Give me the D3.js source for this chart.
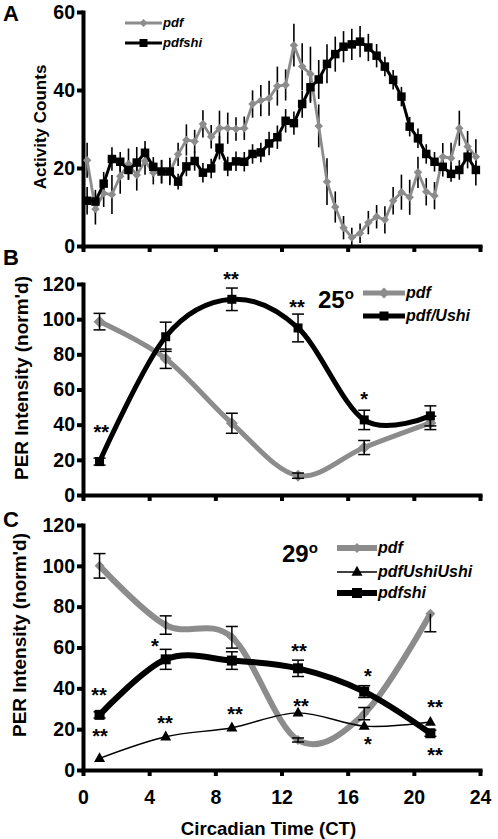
<!DOCTYPE html>
<html><head><meta charset="utf-8">
<script src="https://cdn.jsdelivr.net/npm/d3@7"></script>
<style>body{margin:0;background:#fff} svg{display:block}</style>
</head><body>
<script>
// ---------------- DATA ----------------
// Panel A: activity counts every half hour
const ctA = [0.25,0.75,1.25,1.75,2.25,2.75,3.25,3.75,4.25,4.75,5.25,5.75,6.25,6.75,7.25,7.75,8.25,8.75,9.25,9.75,10.25,10.75,11.25,11.75,12.25,12.75,13.25,13.75,14.25,14.75,15.25,15.75,16.25,16.75,17.25,17.75,18.25,18.75,19.25,19.75,20.25,20.75,21.25,21.75,22.25,22.75,23.25,23.75];
const pdfA = [22,9.5,13.5,13.2,17.9,21,18.2,21.8,18.8,19,19,23.5,27.2,26.8,31.3,28,30.2,30.2,30,30.2,36.4,37.3,37.9,41,41.3,51.5,46,44.1,30.8,16.5,10,4.7,2.2,3.3,6,7.5,6.7,11.6,13.8,12.5,18.9,13.9,12.9,22.9,22.5,30.2,25.5,22.9];
const pdfErrA = [4.5,4,3.5,5,4.5,4,4,3.5,3,3,3,3,4,3,3.5,3,4.5,4,3,3,3.5,4,4.5,5,4,5.5,6,7,5.5,6,4,3,2.5,2.5,3,3,3.5,3.5,4.5,4.5,4,3.5,3.5,3.5,4,4.5,4,4.5];
const pdfshiA = [11.6,11.4,16,22.3,21.6,19.5,21.4,23.9,20.3,19.1,19.1,16.5,20.4,21.8,18.8,19.9,25.2,20.4,21.7,21.6,23.6,24,26.3,27.9,32.1,31.5,36.4,40.7,42.7,46.7,49.2,51.1,51.7,52.4,50.9,48.8,46,42.6,38.3,30.6,27.6,23.6,21.6,20.3,18.5,19.5,22.9,19.5];
const pdfshiErrA = [3.5,3,3,3,2.5,2.5,4,3,2.5,3,3.5,2,2.5,2.5,2.5,2.5,3,2.5,2.5,2.5,2.5,2.5,3,3,3,3,3.5,4,5,5,4.5,4,4,4,3.5,3,2.5,2.5,2.5,2.5,2.5,2.5,2.5,2.5,2,2.5,3,4];
const yTicksA = [0,20,40,60];

// Panel B: 25 degrees
const ctB = [1,5,9,13,17,21];
const pdfB = [98.6,77.5,40.8,11,27,41];
const pdfErrB = [4.7,5.5,5.7,1.5,4,3.8];
const ushiB = [19,90,111.3,95,42.7,45];
const ushiErrB = [2,8.3,6.4,7.9,5.5,5.7];
const starsB = [
  {ct:1.1, v:38.1, t:"**"}, {ct:8.95, v:125.1, t:"**"},
  {ct:12.94, v:109.2, t:"**"}, {ct:17.0, v:56.9, t:"*"}
];

// Panel C: 29 degrees
const ctC = [1,5,9,13,17,21];
const pdfC = [100,71,65,14.7,27.6,76.5];
const pdfErrUpC = [6,4.5,5.3,1,3,0];
const pdfErrDownC = [6,4.5,5.3,1,3,8.8];
const ushiushiC = [5.7,16.3,20.7,28,21.5,23.5];
const shiC = [27,54.2,53.6,49.8,38.4,18];
const shiErrC = [1.5,4.9,4.3,4,2.9,1.5];
const starsC = [
  {ct:0.97, v:38.7, t:"**"}, {ct:1.03, v:18.6, t:"**"},
  {ct:4.35, v:62.7, t:"*"}, {ct:4.96, v:25, t:"**"},
  {ct:9.19, v:29.4, t:"**"}, {ct:13.06, v:60.2, t:"**"},
  {ct:13.18, v:33.3, t:"**"}, {ct:17.23, v:48, t:"*"},
  {ct:17.23, v:14.7, t:"*"}, {ct:21.28, v:32.8, t:"**"},
  {ct:21.28, v:9.3, t:"**"}
];
const yTicksBC = [0,20,40,60,80,100,120];
const xTicks = [0,4,8,12,16,20,24];

// ---------------- DRAW ----------------
const W = 498, H = 839;
const FONT = "'Liberation Sans', Arial, Helvetica, sans-serif";
const GREY = "#8c8c8c";
const svg = d3.select("body").append("svg").attr("width", W).attr("height", H)
  .style("font-family", FONT);

const x = d3.scaleLinear().domain([0,24]).range([83,480]);
const yA = d3.scaleLinear().domain([0,60]).range([246,12]);
const yB = d3.scaleLinear().domain([0,120]).range([495,284]);
const yC = d3.scaleLinear().domain([0,120]).range([770,525]);

function axes(y, yticks, showX){
  const gy = svg.append("g").attr("transform", `translate(${x(0)},0)`)
    .call(d3.axisLeft(y).tickValues(yticks).tickSize(6).tickSizeOuter(0).tickPadding(2));
  const gx = svg.append("g").attr("transform", `translate(0,${y(0)})`)
    .call(d3.axisBottom(x).tickValues(xTicks).tickSize(6).tickSizeOuter(0).tickPadding(14)
      .tickFormat(showX ? d3.format("d") : () => ""));
  [gy, gx].forEach(g => {
    g.select(".domain").attr("stroke", "#000").attr("stroke-width", 4).attr("stroke-linecap", "square");
    g.selectAll(".tick line").attr("stroke", "#000").attr("stroke-width", 4);
    g.selectAll(".tick text").attr("fill", "#000").attr("font-size", 19.5).attr("font-weight", "bold")
      .attr("font-family", FONT);
  });
}

function diamondPath(d){ // rotated square, d = diagonal
  const r = d/2;
  return `M0,${-r}L${r},0L0,${r}L${-r},0Z`;
}
const squarePath = s => `M${-s/2},${-s/2}h${s}v${s}h${-s}Z`;
const trianglePath = s => { const h = s*0.9; return `M0,${-h*0.62}L${s/2},${h*0.38}L${-s/2},${h*0.38}Z`; };

function errBars(cts, vals, errUp, errDown, y, cap, w){
  const g = svg.append("g").attr("stroke", "#000").attr("stroke-width", w || 1.5).attr("fill", "none");
  cts.forEach((c, i) => {
    const xx = x(c), y1 = y(vals[i] + errUp[i]), y2 = y(vals[i] - errDown[i]);
    g.append("line").attr("x1", xx).attr("x2", xx).attr("y1", y1).attr("y2", y2);
    if (cap) {
      if (errUp[i] > 0) g.append("line").attr("x1", xx - cap/2).attr("x2", xx + cap/2).attr("y1", y1).attr("y2", y1);
      if (errDown[i] > 0) g.append("line").attr("x1", xx - cap/2).attr("x2", xx + cap/2).attr("y1", y2).attr("y2", y2);
    }
  });
}
function seriesLine(cts, vals, y, color, width, curve){
  const line = d3.line().x((d) => x(d[0])).y(d => y(d[1])).curve(curve || d3.curveLinear);
  svg.append("path").datum(cts.map((c, i) => [c, vals[i]]))
    .attr("d", line).attr("fill", "none").attr("stroke", color).attr("stroke-width", width)
    .attr("stroke-linejoin", "round");
}
function markers(cts, vals, y, pathStr, color){
  svg.append("g").selectAll("path").data(cts).join("path")
    .attr("transform", (c, i) => `translate(${x(c)},${y(vals[i])})`)
    .attr("d", pathStr).attr("fill", color);
}
function legendItem(x1, x2, yy, color, width, pathStr, label, fs){
  svg.append("line").attr("x1", x1).attr("x2", x2).attr("y1", yy).attr("y2", yy)
    .attr("stroke", color).attr("stroke-width", width);
  svg.append("path").attr("transform", `translate(${(x1+x2)/2},${yy})`).attr("d", pathStr).attr("fill", color);
  svg.append("text").attr("x", x2 + 1).attr("y", yy + fs*0.3).text(label)
    .attr("font-size", fs).attr("font-weight", "bold").attr("font-style", "italic").attr("fill", "#000");
}
function stars(list, y){
  svg.append("g").selectAll("text").data(list).join("text")
    .attr("x", d => x(d.ct)).attr("y", d => y(d.v) + 11).attr("text-anchor", "middle")
    .attr("font-size", 20).attr("font-weight", "bold").attr("fill", "#000").text(d => d.t);
}
function panelLetter(t, xx, yy){
  svg.append("text").attr("x", xx).attr("y", yy).text(t).attr("font-size", 22).attr("font-weight", "bold");
}
function yLabel(t, xx, yy, fs){
  svg.append("text").attr("transform", `translate(${xx},${yy}) rotate(-90)`).attr("text-anchor", "middle")
    .attr("font-size", fs).attr("font-weight", "bold").attr("fill", "#000").text(t);
}
function tempLabel(num, xx, yy){
  const t = svg.append("text").attr("x", xx).attr("y", yy).attr("font-size", 24).attr("font-weight", "bold");
  t.append("tspan").text(num);
  t.append("tspan").attr("font-size", 15).attr("dy", -9.4).text("o");
}

// ---- Panel A ----
axes(yA, yTicksA, false);
panelLetter("A", 3, 21);
yLabel("Activity Counts", 46, 127, 17);
errBars(ctA, pdfA, pdfErrA, pdfErrA, yA, 0, 1.6);
errBars(ctA, pdfshiA, pdfshiErrA, pdfshiErrA, yA, 0, 1.6);
seriesLine(ctA, pdfA, yA, GREY, 2.8);
markers(ctA, pdfA, yA, diamondPath(8.5), GREY);
seriesLine(ctA, pdfshiA, yA, "#000", 3);
markers(ctA, pdfshiA, yA, squarePath(8.5), "#000");
legendItem(125, 162, 23, GREY, 3, diamondPath(8), "pdf", 13);
legendItem(125, 162, 43, "#000", 3, squarePath(8), "pdfshi", 13);

// ---- Panel B ----
axes(yB, yTicksBC, false);
panelLetter("B", 3, 265);
const smooth = d3.curveCardinal.tension(0);
seriesLine(ctB, pdfB, yB, GREY, 5, smooth);
markers(ctB, pdfB, yB, diamondPath(12), GREY);
seriesLine(ctB, ushiB, yB, "#000", 5, smooth);
markers(ctB, ushiB, yB, squarePath(9), "#000");
errBars(ctB, pdfB, pdfErrB, pdfErrB, yB, 12, 1.5);
errBars(ctB, ushiB, ushiErrB, ushiErrB, yB, 12, 1.5);
stars(starsB, yB);
tempLabel("25", 318, 308);
legendItem(363, 405, 293, GREY, 5, diamondPath(11), "pdf", 16);
legendItem(363, 405, 316, "#000", 5, squarePath(9), "pdf/Ushi", 16);
yLabel("PER Intensity (norm'd)", 28, 378, 19);

// ---- Panel C ----
axes(yC, yTicksBC, true);
panelLetter("C", 3, 527);
seriesLine(ctC, pdfC, yC, GREY, 6, smooth);
markers(ctC, pdfC, yC, diamondPath(10), GREY);
seriesLine(ctC, ushiushiC, yC, "#000", 1.4, smooth);
markers(ctC, ushiushiC, yC, trianglePath(11), "#000");
seriesLine(ctC, shiC, yC, "#000", 6, smooth);
markers(ctC, shiC, yC, squarePath(10), "#000");
errBars(ctC, pdfC, pdfErrUpC, pdfErrDownC, yC, 12, 1.5);
errBars(ctC, shiC, shiErrC, shiErrC, yC, 12, 1.5);
stars(starsC, yC);
tempLabel("29", 282, 562);
legendItem(337, 377, 548, GREY, 6, diamondPath(10), "pdf", 16);
legendItem(337, 377, 572, "#000", 1.4, trianglePath(11), "pdfUshiUshi", 16);
legendItem(337, 377, 593, "#000", 6, squarePath(10), "pdfshi", 16);
yLabel("PER Intensity (norm'd)", 26, 635, 19);

svg.append("text").attr("x", x(12) - 13).attr("y", 835).attr("text-anchor", "middle")
  .attr("font-size", 18.6).attr("font-weight", "bold").attr("fill", "#000").text("Circadian Time (CT)");
</script>
</body></html>
